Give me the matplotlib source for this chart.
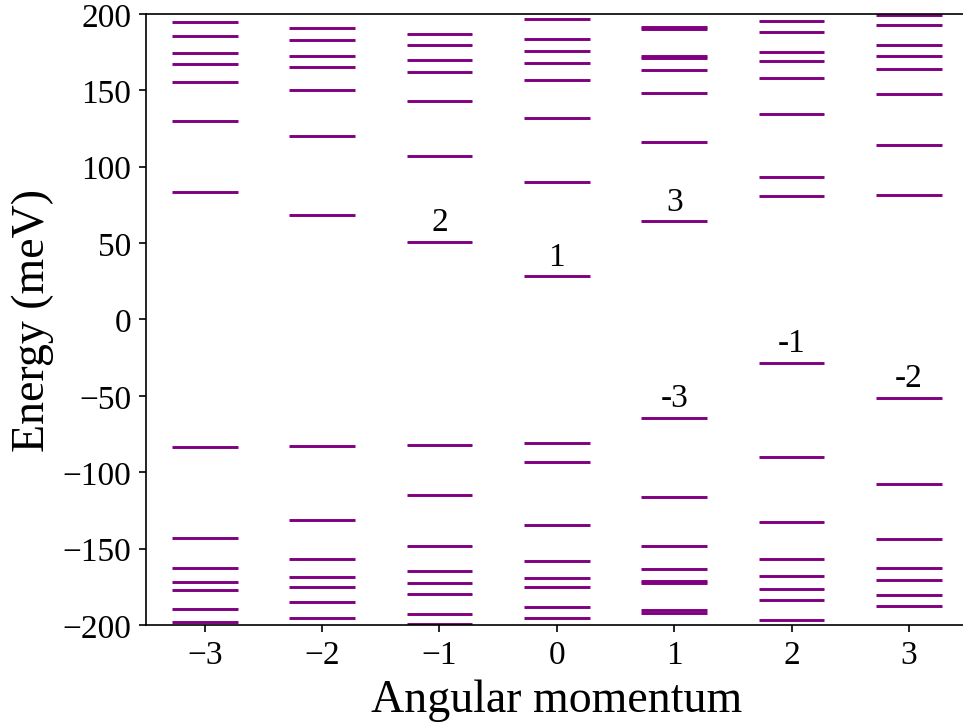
import matplotlib.pyplot as plt
import numpy as np

plt.rcParams['font.family'] = ['Liberation Serif', 'DejaVu Serif']

# energy levels (meV) for each angular momentum channel
m_values = [-3, -2, -1, 0, 1, 2, 3]
levels = {
    -3: [194.6, 185.8, 174.7, 167.3, 155.5, 129.8, 83.3,
         -83.5, -143.1, -162.7, -171.7, -177.3, -189.8, -198.1],
    -2: [190.6, 183.0, 172.3, 165.1, 150.4, 120.1, 68.6,
         -82.6, -131.1, -157.0, -168.6, -174.9, -185.0, -195.7],
    -1: [187.1, 179.7, 170.1, 161.8, 143.0, 107.2, 50.7,
         -81.9, -114.8, -148.3, -164.6, -172.7, -179.9, -193.0, -199.6],
    0: [196.5, 183.4, 176.0, 167.7, 156.8, 132.1, 89.8, 28.3,
        -80.8, -93.3, -134.7, -158.3, -169.2, -175.3, -188.0, -195.4],
    1: [191.6, 190.0, 172.3, 171.1, 163.1, 148.1, 116.0, 64.3,
        -64.2, -116.1, -148.2, -163.1, -171.3, -172.7, -190.4, -192.0],
    2: [195.4, 188.0, 175.3, 169.2, 158.1, 134.5, 93.1, 80.7,
        -28.4, -89.9, -132.4, -156.8, -167.9, -176.2, -183.8, -196.9],
    3: [199.4, 192.6, 179.5, 172.3, 164.2, 147.6, 114.4, 81.5,
        -51.3, -107.8, -143.6, -162.6, -170.7, -180.1, -187.7],
}

# state labels: (channel, level, text)
state_labels = [
    (-1, 50.7, '2'),
    (0, 28.3, '1'),
    (1, 64.3, '3'),
    (1, -64.2, '-3'),
    (2, -28.4, '-1'),
    (3, -51.3, '-2'),
]

half_width = 0.28

fig = plt.figure(figsize=(6.42, 4.8333), dpi=150)
ax = fig.add_axes([0.1516, 0.1366, 0.8532, 0.8428])

for m in m_values:
    e = np.array(levels[m])
    ax.hlines(e, m - half_width, m + half_width, color='purple', linewidth=1.4)

for m, e, txt in state_labels:
    ax.text(m, e + 3, txt, ha='center', va='bottom', fontsize=16)

ax.set_xlim(-3.5, 3.5)
ax.set_ylim(-200, 200)
ax.set_xticks(m_values)
ax.set_yticks([-200, -150, -100, -50, 0, 50, 100, 150, 200])
ax.tick_params(labelsize=16)
ax.set_xlabel('Angular momentum', fontsize=22)
ax.set_ylabel('Energy (meV)', fontsize=22)

fig.savefig('out.png', dpi=150)
